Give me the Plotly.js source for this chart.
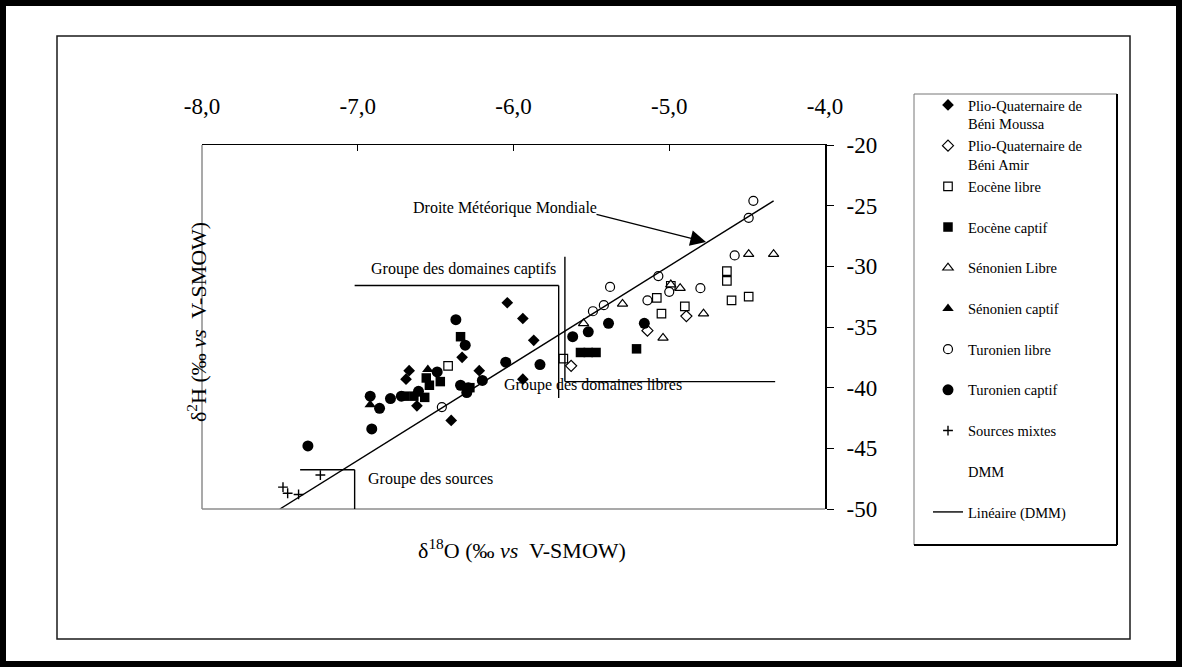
<!DOCTYPE html>
<html>
<head>
<meta charset="utf-8">
<script src="https://cdn.plot.ly/plotly-3.0.1.min.js"></script>
<style>
html,body{margin:0;padding:0;background:#fff;}
#chart{width:1182px;height:667px;}
</style>
</head>
<body>
<div id="chart"></div>
<script>
// ---------- data (δ18O, δ2H in ‰ vs V-SMOW) ----------
const plioBeniMoussaX = [-6.04, -5.94, -5.87, -5.94, -6.33, -6.22, -6.40, -6.62, -6.67, -6.69];
const plioBeniMoussaY = [-33.0, -34.3, -36.1, -39.3, -37.5, -38.6, -42.7, -41.5, -38.6, -39.3];

const plioBeniAmirX = [-5.14, -4.89, -5.63];
const plioBeniAmirY = [-35.3, -34.1, -38.2];

const eoceneLibreX = [-6.42, -5.68, -5.08, -5.05, -4.99, -4.90, -4.63, -4.63, -4.60, -4.49];
const eoceneLibreY = [-38.2, -37.6, -32.6, -33.9, -31.6, -33.3, -30.4, -31.2, -32.8, -32.5];

const eoceneCaptifX = [-6.34, -6.56, -6.54, -6.47, -6.70, -6.64, -6.57, -6.28, -5.57, -5.52, -5.47, -5.21];
const eoceneCaptifY = [-35.8, -39.2, -39.8, -39.5, -40.7, -40.7, -40.8, -40.0, -37.1, -37.1, -37.1, -36.8];

const senonienLibreX = [-5.55, -5.30, -4.99, -4.93, -4.78, -5.04, -4.49, -4.33];
const senonienLibreY = [-34.7, -33.1, -31.5, -31.8, -33.9, -35.9, -29.0, -29.0];

const senonienCaptifX = [-6.55, -6.92];
const senonienCaptifY = [-38.5, -41.4];

const turonienLibreX = [-4.46, -4.49, -4.58, -4.80, -5.07, -5.00, -5.14, -5.38, -5.42, -5.49, -6.46];
const turonienLibreY = [-24.6, -26.0, -29.1, -31.8, -30.8, -32.1, -32.8, -31.7, -33.2, -33.7, -41.6];

const turonienCaptifX = [-7.32, -6.92, -6.91, -6.86, -6.79, -6.72, -6.61, -6.49, -6.37, -6.31, -6.34, -6.29, -6.30, -6.20, -6.05, -5.83, -5.62, -5.52, -5.39, -5.16];
const turonienCaptifY = [-44.8, -40.7, -43.4, -41.7, -40.9, -40.7, -40.3, -38.7, -34.4, -36.5, -39.8, -40.0, -40.4, -39.4, -37.9, -38.1, -35.8, -35.4, -34.7, -34.7];

const sourcesMixtesX = [-7.24, -7.48, -7.45, -7.38];
const sourcesMixtesY = [-47.2, -48.2, -48.7, -48.8];

// Droite Météorique Mondiale (DMM)
const dmmX = [-7.50, -4.33];
const dmmY = [-50.0, -24.6];

// tick labels
const xTickVals = [-8, -7, -6, -5, -4];
const xTickText = ['-8,0', '-7,0', '-6,0', '-5,0', '-4,0'];
const yTickVals = [-20, -25, -30, -35, -40, -45, -50];
const yTickText = ['-20', '-25', '-30', '-35', '-40', '-45', '-50'];

// ---------- layout helpers (pixel -> paper) ----------
const W = 1182, H = 667;
const L = 202, R = 825, T = 145, B = 509;
const px = v => (v - L) / (R - L);
const py = v => (B - v) / (B - T);
const FONT = 'Liberation Serif, Times New Roman, serif';

function mk(name, x, y, symbol, fill, size, lw) {
  return {
    type: 'scatter', mode: 'markers', name: name, x: x, y: y,
    marker: {symbol: symbol, size: size, color: fill, line: {color: 'black', width: lw}},
    cliponaxis: false, hoverinfo: 'x+y'
  };
}

const traces = [
  mk('Plio-Quaternaire de<br>Béni Moussa', plioBeniMoussaX, plioBeniMoussaY, 'diamond', 'black', 9, 0),
  mk('Plio-Quaternaire de<br>Béni Amir', plioBeniAmirX, plioBeniAmirY, 'diamond', 'white', 8.5, 1.2),
  mk('Eocène libre<br> ', eoceneLibreX, eoceneLibreY, 'square', 'white', 8.5, 1.2),
  mk('Eocène captif<br> ', eoceneCaptifX, eoceneCaptifY, 'square', 'black', 9.5, 0),
  mk('Sénonien Libre<br> ', senonienLibreX, senonienLibreY, 'triangle-up', 'white', 9, 1.2),
  mk('Sénonien captif<br> ', senonienCaptifX, senonienCaptifY, 'triangle-up', 'black', 10, 0),
  mk('Turonien libre<br> ', turonienLibreX, turonienLibreY, 'circle', 'white', 9, 1.2),
  mk('Turonien captif<br> ', turonienCaptifX, turonienCaptifY, 'circle', 'black', 11, 0),
  {type: 'scatter', mode: 'markers', name: 'Sources mixtes<br> ', x: sourcesMixtesX, y: sourcesMixtesY,
   marker: {symbol: 'cross-thin', size: 7, color: 'black', line: {color: 'black', width: 1.4}}, cliponaxis: false},
  {type: 'scatter', mode: 'markers', name: 'DMM<br> ', x: dmmX, y: dmmY,
   marker: {size: 1, color: 'rgba(0,0,0,0)'}, hoverinfo: 'skip'},
  {type: 'scatter', mode: 'lines', name: 'Linéaire (DMM)<br> ', x: dmmX, y: dmmY,
   line: {color: 'black', width: 1.4}, hoverinfo: 'skip'}
];

const lineBlack = {color: 'black', width: 1.4};
const shapes = [
  // outer thick frame
  {type: 'rect', xref: 'paper', yref: 'paper', x0: px(3), x1: px(1179), y0: py(664), y1: py(3), line: {color: 'black', width: 6}},
  // inner frame
  {type: 'rect', xref: 'paper', yref: 'paper', x0: px(57), x1: px(1130), y0: py(639), y1: py(36), line: {color: '#1a1a1a', width: 1.5}},
  // plot area left & bottom (grey)
  {type: 'line', xref: 'paper', yref: 'paper', x0: 0, x1: 0, y0: 0, y1: 1, line: {color: '#8c8c8c', width: 1.5}},
  {type: 'line', xref: 'paper', yref: 'paper', x0: 0, x1: 1, y0: 0, y1: 0, line: {color: '#8c8c8c', width: 1.5}},
  // legend box
  {type: 'rect', xref: 'paper', yref: 'paper', x0: px(914), x1: px(1117), y0: py(545), y1: py(94), line: {color: '#777', width: 1}},
  {type: 'line', xref: 'paper', yref: 'paper', x0: px(1117), x1: px(1117), y0: py(545), y1: py(94), line: {color: 'black', width: 2}},
  {type: 'line', xref: 'paper', yref: 'paper', x0: px(914), x1: px(1117), y0: py(545), y1: py(545), line: {color: 'black', width: 2}},
  // Groupe des domaines captifs bracket
  {type: 'line', xref: 'x', yref: 'y', x0: -7.02, x1: -5.71, y0: -31.58, y1: -31.58, line: lineBlack},
  {type: 'line', xref: 'x', yref: 'y', x0: -5.71, x1: -5.71, y0: -31.58, y1: -40.85, line: lineBlack},
  // Groupe des domaines libres bracket
  {type: 'line', xref: 'x', yref: 'y', x0: -5.67, x1: -5.67, y0: -29.2, y1: -39.5, line: lineBlack},
  {type: 'line', xref: 'x', yref: 'y', x0: -5.67, x1: -4.32, y0: -39.5, y1: -39.5, line: lineBlack},
  // Groupe des sources bracket
  {type: 'line', xref: 'x', yref: 'y', x0: -7.37, x1: -7.02, y0: -46.76, y1: -46.76, line: lineBlack},
  {type: 'line', xref: 'x', yref: 'y', x0: -7.02, x1: -7.02, y0: -46.76, y1: -50, line: lineBlack}
];

const annFont = {family: FONT, size: 16, color: 'black'};
const annotations = [
  {xref: 'paper', yref: 'paper', x: px(505), y: py(197), text: 'Droite Météorique Mondiale', showarrow: false, font: annFont},
  {xref: 'paper', yref: 'paper', x: px(706), y: py(242), ax: -111, ay: -28, text: '', showarrow: true,
   arrowhead: 2, arrowsize: 2.4, arrowwidth: 1.3, arrowcolor: 'black'},
  {xref: 'paper', yref: 'paper', x: px(463), y: py(269), text: 'Groupe des domaines captifs', showarrow: false, font: annFont},
  {xref: 'paper', yref: 'paper', x: px(684), y: py(396), text: 'Groupe des domaines libres', showarrow: false, font: annFont},
  {xref: 'paper', yref: 'paper', x: px(430), y: py(490), text: 'Groupe des sources', showarrow: false, font: annFont},
  {xref: 'paper', yref: 'paper', x: px(522), y: py(565), text: 'δ<sup>18</sup>O (‰ <i>vs</i>\u00a0 V-SMOW)', showarrow: false,
   font: {family: FONT, size: 22, color: 'black'}},
  {xref: 'paper', yref: 'paper', x: px(181), y: py(322), text: 'δ<sup>2</sup>H (‰ <i>vs</i>\u00a0 V-SMOW)', showarrow: false,
   textangle: -90, font: {family: FONT, size: 22, color: 'black'}}
];

const layout = {
  width: W, height: H,
  margin: {l: L, r: W - R, t: T, b: H - B, pad: 0},
  paper_bgcolor: 'white', plot_bgcolor: 'white',
  font: {family: FONT, color: 'black'},
  showlegend: true,
  legend: {
    xref: 'container', yref: 'container',
    x: 928 / W, y: 1 - 89 / H, xanchor: 'left', yanchor: 'top',
    maxheight: 600,
    bgcolor: 'rgba(0,0,0,0)', borderwidth: 0,
    font: {family: FONT, size: 14.5, color: 'black'},
    valign: 'top', tracegroupgap: 0, traceorder: 'normal'
  },
  xaxis: {
    range: [-8, -4], side: 'top', tickmode: 'array', tickvals: xTickVals, ticktext: xTickText,
    ticks: 'inside', ticklen: 6, tickwidth: 1, tickcolor: 'black',
    showline: true, linecolor: 'black', linewidth: 1.5, showgrid: false, zeroline: false,
    tickfont: {family: FONT, size: 23, color: 'black'}, ticklabelstandoff: 20, fixedrange: true
  },
  yaxis: {
    range: [-50, -20], side: 'right', tickmode: 'array', tickvals: yTickVals, ticktext: yTickText,
    ticks: 'outside', ticklen: 7, tickwidth: 1, tickcolor: 'black',
    showline: true, linecolor: 'black', linewidth: 2, showgrid: false, zeroline: false,
    tickfont: {family: FONT, size: 23, color: 'black'}, ticklabelstandoff: 8, fixedrange: true
  },
  shapes: shapes,
  annotations: annotations
};

Plotly.newPlot('chart', traces, layout, {displayModeBar: false, staticPlot: true});
</script>
</body>
</html>
